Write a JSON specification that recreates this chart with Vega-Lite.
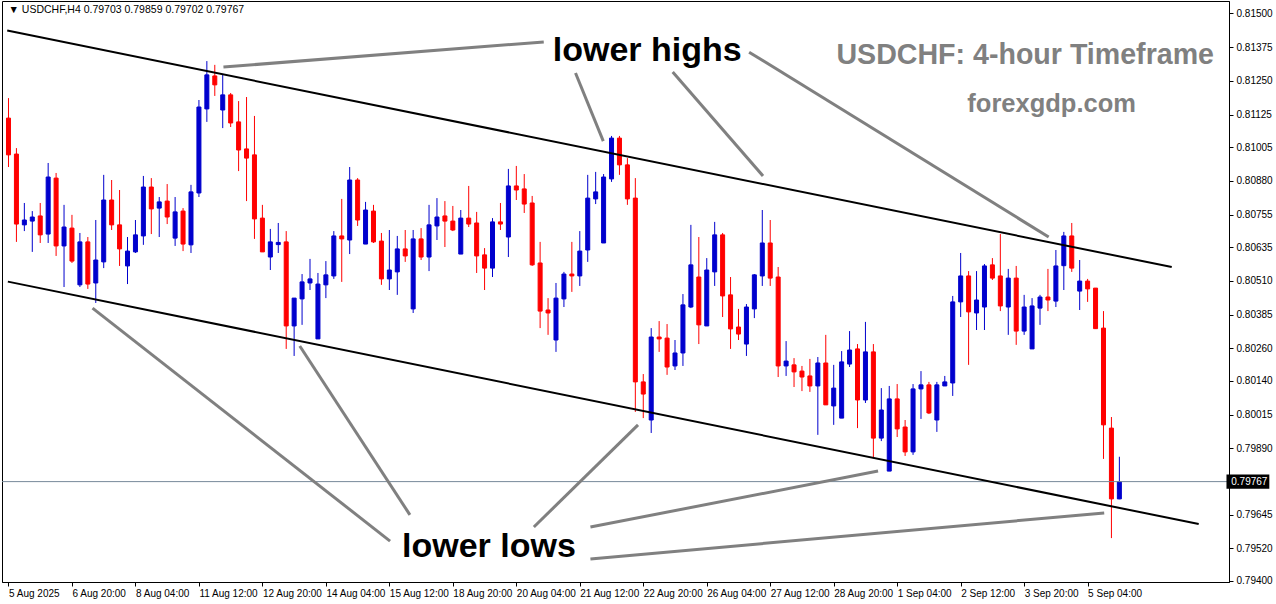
{
  "$schema": "https://vega.github.io/schema/vega-lite/v6.json",
  "width": 1227,
  "height": 581,
  "autosize": {"type": "none"},
  "padding": {"left": 2, "top": 1, "right": 47, "bottom": 22},
  "background": "white",
  "config": {
    "view": {"stroke": "#000000", "strokeWidth": 1},
    "font": "Liberation Sans",
    "axis": {"grid": false, "labelFontSize": 10, "labelFont": "Liberation Sans", "labelColor": "#000000", "tickSize": 4, "tickColor": "#000000", "domainColor": "#000000", "labelOverlap": false, "labelFlush": false, "title": null}
  },
  "datasets": {
    "candles": [
      {"t":"2025-08-05T12:00","o":0.81112,"h":0.81186,"l":0.80931,"c":0.80976},
      {"t":"2025-08-05T16:00","o":0.80979,"h":0.81001,"l":0.80654,"c":0.80720},
      {"t":"2025-08-05T20:00","o":0.80717,"h":0.80798,"l":0.80694,"c":0.80735},
      {"t":"2025-08-06T00:00","o":0.80731,"h":0.80768,"l":0.80617,"c":0.80746},
      {"t":"2025-08-06T04:00","o":0.80750,"h":0.80798,"l":0.80650,"c":0.80680},
      {"t":"2025-08-06T08:00","o":0.80683,"h":0.80946,"l":0.80650,"c":0.80894},
      {"t":"2025-08-06T12:00","o":0.80890,"h":0.80909,"l":0.80602,"c":0.80639},
      {"t":"2025-08-06T16:00","o":0.80639,"h":0.80791,"l":0.80487,"c":0.80709},
      {"t":"2025-08-06T20:00","o":0.80705,"h":0.80754,"l":0.80576,"c":0.80583},
      {"t":"2025-08-07T00:00","o":0.80495,"h":0.80687,"l":0.80487,"c":0.80654},
      {"t":"2025-08-07T04:00","o":0.80654,"h":0.80672,"l":0.80480,"c":0.80498},
      {"t":"2025-08-07T08:00","o":0.80502,"h":0.80735,"l":0.80428,"c":0.80587},
      {"t":"2025-08-07T12:00","o":0.80580,"h":0.80902,"l":0.80557,"c":0.80809},
      {"t":"2025-08-07T16:00","o":0.80809,"h":0.80883,"l":0.80698,"c":0.80717},
      {"t":"2025-08-07T20:00","o":0.80717,"h":0.80846,"l":0.80565,"c":0.80628},
      {"t":"2025-08-08T00:00","o":0.80565,"h":0.80672,"l":0.80498,"c":0.80620},
      {"t":"2025-08-08T04:00","o":0.80617,"h":0.80735,"l":0.80613,"c":0.80680},
      {"t":"2025-08-08T08:00","o":0.80676,"h":0.80898,"l":0.80643,"c":0.80857},
      {"t":"2025-08-08T12:00","o":0.80857,"h":0.80890,"l":0.80683,"c":0.80776},
      {"t":"2025-08-08T16:00","o":0.80779,"h":0.80820,"l":0.80672,"c":0.80802},
      {"t":"2025-08-08T20:00","o":0.80805,"h":0.80868,"l":0.80720,"c":0.80746},
      {"t":"2025-08-11T00:00","o":0.80668,"h":0.80820,"l":0.80639,"c":0.80765},
      {"t":"2025-08-11T04:00","o":0.80768,"h":0.80779,"l":0.80620,"c":0.80646},
      {"t":"2025-08-11T08:00","o":0.80643,"h":0.80865,"l":0.80613,"c":0.80839},
      {"t":"2025-08-11T12:00","o":0.80835,"h":0.81179,"l":0.80820,"c":0.81153},
      {"t":"2025-08-11T16:00","o":0.81146,"h":0.81323,"l":0.81098,"c":0.81272},
      {"t":"2025-08-11T20:00","o":0.81268,"h":0.81309,"l":0.81194,"c":0.81235},
      {"t":"2025-08-12T00:00","o":0.81142,"h":0.81272,"l":0.81075,"c":0.81198},
      {"t":"2025-08-12T04:00","o":0.81198,"h":0.81205,"l":0.81079,"c":0.81094},
      {"t":"2025-08-12T08:00","o":0.81098,"h":0.81175,"l":0.80916,"c":0.80994},
      {"t":"2025-08-12T12:00","o":0.80998,"h":0.81190,"l":0.80805,"c":0.80964},
      {"t":"2025-08-12T16:00","o":0.80976,"h":0.81120,"l":0.80665,"c":0.80739},
      {"t":"2025-08-12T20:00","o":0.80742,"h":0.80791,"l":0.80617,"c":0.80617},
      {"t":"2025-08-13T00:00","o":0.80598,"h":0.80702,"l":0.80550,"c":0.80654},
      {"t":"2025-08-13T04:00","o":0.80644,"h":0.80724,"l":0.80613,"c":0.80652},
      {"t":"2025-08-13T08:00","o":0.80654,"h":0.80694,"l":0.80258,"c":0.80343},
      {"t":"2025-08-13T12:00","o":0.80343,"h":0.80446,"l":0.80232,"c":0.80446},
      {"t":"2025-08-13T16:00","o":0.80443,"h":0.80535,"l":0.80347,"c":0.80506},
      {"t":"2025-08-13T20:00","o":0.80502,"h":0.80591,"l":0.80476,"c":0.80517},
      {"t":"2025-08-14T00:00","o":0.80295,"h":0.80539,"l":0.80295,"c":0.80498},
      {"t":"2025-08-14T04:00","o":0.80495,"h":0.80583,"l":0.80446,"c":0.80532},
      {"t":"2025-08-14T08:00","o":0.80528,"h":0.80694,"l":0.80517,"c":0.80676},
      {"t":"2025-08-14T12:00","o":0.80676,"h":0.80813,"l":0.80506,"c":0.80665},
      {"t":"2025-08-14T16:00","o":0.80661,"h":0.80931,"l":0.80609,"c":0.80883},
      {"t":"2025-08-14T20:00","o":0.80883,"h":0.80890,"l":0.80713,"c":0.80735},
      {"t":"2025-08-15T00:00","o":0.80646,"h":0.80802,"l":0.80646,"c":0.80772},
      {"t":"2025-08-15T04:00","o":0.80768,"h":0.80791,"l":0.80650,"c":0.80654},
      {"t":"2025-08-15T08:00","o":0.80657,"h":0.80687,"l":0.80495,"c":0.80517},
      {"t":"2025-08-15T12:00","o":0.80517,"h":0.80698,"l":0.80476,"c":0.80550},
      {"t":"2025-08-15T16:00","o":0.80543,"h":0.80676,"l":0.80458,"c":0.80628},
      {"t":"2025-08-15T20:00","o":0.80628,"h":0.80698,"l":0.80580,"c":0.80602},
      {"t":"2025-08-18T00:00","o":0.80406,"h":0.80698,"l":0.80391,"c":0.80665},
      {"t":"2025-08-18T04:00","o":0.80665,"h":0.80705,"l":0.80587,"c":0.80598},
      {"t":"2025-08-18T08:00","o":0.80598,"h":0.80791,"l":0.80546,"c":0.80717},
      {"t":"2025-08-18T12:00","o":0.80713,"h":0.80816,"l":0.80661,"c":0.80746},
      {"t":"2025-08-18T16:00","o":0.80750,"h":0.80805,"l":0.80635,"c":0.80731},
      {"t":"2025-08-18T20:00","o":0.80731,"h":0.80787,"l":0.80694,"c":0.80698},
      {"t":"2025-08-19T00:00","o":0.80609,"h":0.80772,"l":0.80609,"c":0.80742},
      {"t":"2025-08-19T04:00","o":0.80742,"h":0.80861,"l":0.80709,"c":0.80720},
      {"t":"2025-08-19T08:00","o":0.80724,"h":0.80765,"l":0.80539,"c":0.80602},
      {"t":"2025-08-19T12:00","o":0.80606,"h":0.80631,"l":0.80476,"c":0.80557},
      {"t":"2025-08-19T16:00","o":0.80557,"h":0.80742,"l":0.80524,"c":0.80728},
      {"t":"2025-08-19T20:00","o":0.80728,"h":0.80798,"l":0.80698,"c":0.80720},
      {"t":"2025-08-20T00:00","o":0.80672,"h":0.80924,"l":0.80598,"c":0.80861},
      {"t":"2025-08-20T04:00","o":0.80861,"h":0.80935,"l":0.80809,"c":0.80846},
      {"t":"2025-08-20T08:00","o":0.80850,"h":0.80905,"l":0.80761,"c":0.80794},
      {"t":"2025-08-20T12:00","o":0.80798,"h":0.80824,"l":0.80565,"c":0.80569},
      {"t":"2025-08-20T16:00","o":0.80576,"h":0.80654,"l":0.80335,"c":0.80398},
      {"t":"2025-08-20T20:00","o":0.80402,"h":0.80446,"l":0.80310,"c":0.80391},
      {"t":"2025-08-21T00:00","o":0.80291,"h":0.80502,"l":0.80247,"c":0.80446},
      {"t":"2025-08-21T04:00","o":0.80443,"h":0.80543,"l":0.80413,"c":0.80535},
      {"t":"2025-08-21T08:00","o":0.80535,"h":0.80654,"l":0.80469,"c":0.80528},
      {"t":"2025-08-21T12:00","o":0.80528,"h":0.80694,"l":0.80491,"c":0.80620},
      {"t":"2025-08-21T16:00","o":0.80624,"h":0.80902,"l":0.80580,"c":0.80816},
      {"t":"2025-08-21T20:00","o":0.80813,"h":0.80913,"l":0.80794,"c":0.80839},
      {"t":"2025-08-22T00:00","o":0.80650,"h":0.80905,"l":0.80650,"c":0.80894},
      {"t":"2025-08-22T04:00","o":0.80887,"h":0.81046,"l":0.80876,"c":0.81038},
      {"t":"2025-08-22T08:00","o":0.81038,"h":0.81046,"l":0.80902,"c":0.80939},
      {"t":"2025-08-22T12:00","o":0.80939,"h":0.80964,"l":0.80791,"c":0.80813},
      {"t":"2025-08-22T16:00","o":0.80816,"h":0.80890,"l":0.80025,"c":0.80136},
      {"t":"2025-08-22T20:00","o":0.80136,"h":0.80165,"l":0.80002,"c":0.80091},
      {"t":"2025-08-25T00:00","o":0.79995,"h":0.80335,"l":0.79947,"c":0.80302},
      {"t":"2025-08-25T04:00","o":0.80302,"h":0.80361,"l":0.80247,"c":0.80295},
      {"t":"2025-08-25T08:00","o":0.80298,"h":0.80350,"l":0.80162,"c":0.80191},
      {"t":"2025-08-25T12:00","o":0.80195,"h":0.80291,"l":0.80180,"c":0.80243},
      {"t":"2025-08-25T16:00","o":0.80243,"h":0.80461,"l":0.80195,"c":0.80421},
      {"t":"2025-08-25T20:00","o":0.80413,"h":0.80717,"l":0.80409,"c":0.80569},
      {"t":"2025-08-26T00:00","o":0.80524,"h":0.80672,"l":0.80276,"c":0.80347},
      {"t":"2025-08-26T04:00","o":0.80343,"h":0.80594,"l":0.80343,"c":0.80550},
      {"t":"2025-08-26T08:00","o":0.80543,"h":0.80728,"l":0.80491,"c":0.80680},
      {"t":"2025-08-26T12:00","o":0.80680,"h":0.80687,"l":0.80376,"c":0.80454},
      {"t":"2025-08-26T16:00","o":0.80458,"h":0.80524,"l":0.80258,"c":0.80332},
      {"t":"2025-08-26T20:00","o":0.80339,"h":0.80406,"l":0.80291,"c":0.80313},
      {"t":"2025-08-27T00:00","o":0.80276,"h":0.80424,"l":0.80232,"c":0.80413},
      {"t":"2025-08-27T04:00","o":0.80406,"h":0.80535,"l":0.80372,"c":0.80532},
      {"t":"2025-08-27T08:00","o":0.80528,"h":0.80772,"l":0.80491,"c":0.80650},
      {"t":"2025-08-27T12:00","o":0.80650,"h":0.80735,"l":0.80491,"c":0.80520},
      {"t":"2025-08-27T16:00","o":0.80524,"h":0.80561,"l":0.80154,"c":0.80195},
      {"t":"2025-08-27T20:00","o":0.80195,"h":0.80287,"l":0.80158,"c":0.80213},
      {"t":"2025-08-28T00:00","o":0.80199,"h":0.80224,"l":0.80117,"c":0.80173},
      {"t":"2025-08-28T04:00","o":0.80176,"h":0.80195,"l":0.80102,"c":0.80154},
      {"t":"2025-08-28T08:00","o":0.80158,"h":0.80221,"l":0.80099,"c":0.80121},
      {"t":"2025-08-28T12:00","o":0.80121,"h":0.80228,"l":0.79940,"c":0.80206},
      {"t":"2025-08-28T16:00","o":0.80206,"h":0.80310,"l":0.80051,"c":0.80051},
      {"t":"2025-08-28T20:00","o":0.80047,"h":0.80199,"l":0.79977,"c":0.80113},
      {"t":"2025-08-29T00:00","o":0.80002,"h":0.80250,"l":0.80002,"c":0.80210},
      {"t":"2025-08-29T04:00","o":0.80202,"h":0.80324,"l":0.80191,"c":0.80254},
      {"t":"2025-08-29T08:00","o":0.80258,"h":0.80276,"l":0.79965,"c":0.80069},
      {"t":"2025-08-29T12:00","o":0.80069,"h":0.80358,"l":0.80058,"c":0.80247},
      {"t":"2025-08-29T16:00","o":0.80247,"h":0.80276,"l":0.79854,"c":0.79928},
      {"t":"2025-08-29T20:00","o":0.79928,"h":0.80113,"l":0.79917,"c":0.80032},
      {"t":"2025-09-01T00:00","o":0.79806,"h":0.80121,"l":0.79806,"c":0.80073},
      {"t":"2025-09-01T04:00","o":0.80073,"h":0.80128,"l":0.79932,"c":0.79962},
      {"t":"2025-09-01T08:00","o":0.79969,"h":0.79995,"l":0.79862,"c":0.79877},
      {"t":"2025-09-01T12:00","o":0.79877,"h":0.80128,"l":0.79866,"c":0.80110},
      {"t":"2025-09-01T16:00","o":0.80110,"h":0.80176,"l":0.79999,"c":0.80125},
      {"t":"2025-09-01T20:00","o":0.80125,"h":0.80136,"l":0.80017,"c":0.80021},
      {"t":"2025-09-02T00:00","o":0.79995,"h":0.80136,"l":0.79951,"c":0.80125},
      {"t":"2025-09-02T04:00","o":0.80121,"h":0.80158,"l":0.80121,"c":0.80136},
      {"t":"2025-09-02T08:00","o":0.80132,"h":0.80454,"l":0.80084,"c":0.80432},
      {"t":"2025-09-02T12:00","o":0.80432,"h":0.80613,"l":0.80376,"c":0.80528},
      {"t":"2025-09-02T16:00","o":0.80528,"h":0.80546,"l":0.80199,"c":0.80395},
      {"t":"2025-09-02T20:00","o":0.80391,"h":0.80546,"l":0.80328,"c":0.80439},
      {"t":"2025-09-03T00:00","o":0.80413,"h":0.80572,"l":0.80328,"c":0.80565},
      {"t":"2025-09-03T04:00","o":0.80569,"h":0.80594,"l":0.80513,"c":0.80520},
      {"t":"2025-09-03T08:00","o":0.80528,"h":0.80683,"l":0.80398,"c":0.80417},
      {"t":"2025-09-03T12:00","o":0.80413,"h":0.80554,"l":0.80310,"c":0.80520},
      {"t":"2025-09-03T16:00","o":0.80520,"h":0.80565,"l":0.80273,"c":0.80324},
      {"t":"2025-09-03T20:00","o":0.80324,"h":0.80458,"l":0.80310,"c":0.80413},
      {"t":"2025-09-04T00:00","o":0.80258,"h":0.80446,"l":0.80258,"c":0.80417},
      {"t":"2025-09-04T04:00","o":0.80409,"h":0.80458,"l":0.80347,"c":0.80450},
      {"t":"2025-09-04T08:00","o":0.80450,"h":0.80554,"l":0.80398,"c":0.80439},
      {"t":"2025-09-04T12:00","o":0.80435,"h":0.80624,"l":0.80413,"c":0.80565},
      {"t":"2025-09-04T16:00","o":0.80566,"h":0.80691,"l":0.80476,"c":0.80676},
      {"t":"2025-09-04T20:00","o":0.80676,"h":0.80724,"l":0.80543,"c":0.80557},
      {"t":"2025-09-05T00:00","o":0.80472,"h":0.80587,"l":0.80402,"c":0.80509},
      {"t":"2025-09-05T04:00","o":0.80509,"h":0.80517,"l":0.80432,"c":0.80480},
      {"t":"2025-09-05T08:00","o":0.80483,"h":0.80483,"l":0.80332,"c":0.80333},
      {"t":"2025-09-05T12:00","o":0.80335,"h":0.80398,"l":0.79851,"c":0.79977},
      {"t":"2025-09-05T16:00","o":0.79965,"h":0.80006,"l":0.79558,"c":0.79703},
      {"t":"2025-09-05T20:00","o":0.79703,"h":0.79859,"l":0.79702,"c":0.79767}
    ],
    "channel": [
      {"n1":0.84,"p1":0.81436,"n2":147.6,"p2":0.80561},
      {"n1":0.92,"p1":0.80507,"n2":151.0,"p2":0.79610}
    ],
    "pointers": [
      {"n1":28.09,"p1":0.81301,"n2":68.46,"p2":0.81394},
      {"n1":72.46,"p1":0.81279,"n2":75.96,"p2":0.81027},
      {"n1":84.71,"p1":0.81283,"n2":96.09,"p2":0.80898},
      {"n1":94.34,"p1":0.81356,"n2":132.09,"p2":0.80672},
      {"n1":11.59,"p1":0.80409,"n2":49.09,"p2":0.79547},
      {"n1":37.71,"p1":0.80269,"n2":51.59,"p2":0.79644},
      {"n1":67.21,"p1":0.79599,"n2":80.34,"p2":0.79977},
      {"n1":74.34,"p1":0.79599,"n2":110.59,"p2":0.79806},
      {"n1":74.34,"p1":0.79481,"n2":139.09,"p2":0.79651}
    ]
  },
  "layer": [
    {
      "data": {"name": "candles"},
      "transform": [{"window": [{"op": "row_number", "as": "n"}], "sort": [{"field": "t", "order": "ascending"}]}],
      "mark": {"type": "rule", "strokeWidth": 1},
      "encoding": {
        "x": {"field": "n", "type": "quantitative", "title": null, "scale": {"domain": [0.8125, 154.1875], "nice": false, "zero": false},
          "axis": {"title": null, "values": [1,9,17,25,33,41,49,57,65,73,81,89,97,105,113,121,129,137], "tickCount": 40,
            "labelExpr": "['5 Aug 2025','6 Aug 20:00','8 Aug 04:00','11 Aug 12:00','12 Aug 20:00','14 Aug 04:00','15 Aug 12:00','18 Aug 20:00','20 Aug 04:00','21 Aug 12:00','22 Aug 20:00','26 Aug 04:00','27 Aug 12:00','28 Aug 20:00','1 Sep 04:00','2 Sep 12:00','3 Sep 20:00','5 Sep 04:00'][(datum.value-1)/8]",
            "labelAlign": "left", "labelBaseline": "top", "labelPadding": 2, "labelOverlap": false, "labelFlush": false}},
        "y": {"field": "l", "type": "quantitative", "title": null, "scale": {"domain": [0.793956, 0.815453], "nice": false, "zero": false},
          "axis": {"title": null, "orient": "right", "tickCount": 30,
            "values": [0.815, 0.81375, 0.8125, 0.81125, 0.81005, 0.8088, 0.80755, 0.80635, 0.8051, 0.80385, 0.8026, 0.8014, 0.80015, 0.7989, 0.79645, 0.7952, 0.794],
            "format": ".5f", "labelPadding": 3, "labelOverlap": false, "labelFlush": false, "labelBound": false}},
        "y2": {"field": "h"},
        "color": {"condition": {"test": "datum.c >= datum.o", "value": "#0000CD"}, "value": "#FF0000"}
      }
    },
    {
      "data": {"name": "candles"},
      "transform": [{"window": [{"op": "row_number", "as": "n"}], "sort": [{"field": "t", "order": "ascending"}]}],
      "mark": {"type": "bar", "size": 4, "strokeWidth": 1},
      "encoding": {
        "x": {"field": "n", "type": "quantitative", "title": null},
        "y": {"field": "o", "type": "quantitative", "title": null},
        "y2": {"field": "c"},
        "fill": {"condition": {"test": "datum.c >= datum.o", "value": "#0000CD"}, "value": "#FF0000"},
        "stroke": {"condition": {"test": "datum.c >= datum.o", "value": "#0000CD"}, "value": "#FF0000"}
      }
    },
    {
      "data": {"values": [{"p": 0.79767}]},
      "mark": {"type": "rule", "color": "#778899", "strokeWidth": 1},
      "encoding": {
        "y": {"field": "p", "type": "quantitative", "title": null}
      }
    },
    {
      "data": {"name": "channel"},
      "mark": {"type": "rule", "color": "#000000", "strokeWidth": 2},
      "encoding": {
        "x": {"field": "n1", "type": "quantitative", "title": null},
        "x2": {"field": "n2"},
        "y": {"field": "p1", "type": "quantitative", "title": null},
        "y2": {"field": "p2"}
      }
    },
    {
      "data": {"name": "pointers"},
      "mark": {"type": "rule", "color": "#808080", "strokeWidth": 3},
      "encoding": {
        "x": {"field": "n1", "type": "quantitative", "title": null},
        "x2": {"field": "n2"},
        "y": {"field": "p1", "type": "quantitative", "title": null},
        "y2": {"field": "p2"}
      }
    },
    {
      "data": {"values": [{"label": "lower highs"}]},
      "mark": {"type": "text", "align": "left", "baseline": "alphabetic", "fontSize": 34, "fontWeight": "bold", "color": "#000000", "font": "Liberation Sans"},
      "encoding": {"x": {"datum": 69.59, "type": "quantitative"}, "y": {"datum": 0.81323, "type": "quantitative"}, "text": {"field": "label"}}
    },
    {
      "data": {"values": [{"label": "lower lows"}]},
      "mark": {"type": "text", "align": "left", "baseline": "alphabetic", "fontSize": 34, "fontWeight": "bold", "color": "#000000", "font": "Liberation Sans"},
      "encoding": {"x": {"datum": 50.59, "type": "quantitative"}, "y": {"datum": 0.79488, "type": "quantitative"}, "text": {"field": "label"}}
    },
    {
      "data": {"values": [{"label": "USDCHF: 4-hour Timeframe"}]},
      "mark": {"type": "text", "align": "left", "baseline": "alphabetic", "fontSize": 28.6, "fontWeight": "bold", "color": "#808080", "font": "Liberation Sans"},
      "encoding": {"x": {"datum": 105.34, "type": "quantitative"}, "y": {"datum": 0.81312, "type": "quantitative"}, "text": {"field": "label"}}
    },
    {
      "data": {"values": [{"label": "forexgdp.com"}]},
      "mark": {"type": "text", "align": "left", "baseline": "alphabetic", "fontSize": 25.5, "fontWeight": "bold", "color": "#808080", "font": "Liberation Sans"},
      "encoding": {"x": {"datum": 121.84, "type": "quantitative"}, "y": {"datum": 0.81135, "type": "quantitative"}, "text": {"field": "label"}}
    },
    {
      "data": {"values": [{"label": "▼  USDCHF,H4   0.79703  0.79859  0.79702  0.79767"}]},
      "mark": {"type": "text", "align": "left", "baseline": "alphabetic", "fontSize": 10.5, "color": "#000000", "font": "Liberation Sans"},
      "encoding": {"x": {"datum": 1.0, "type": "quantitative"}, "y": {"datum": 0.81501, "type": "quantitative"}, "text": {"field": "label"}}
    },
    {
      "data": {"values": [{"p": 0.79767}]},
      "mark": {"type": "rect", "color": "#000000"},
      "encoding": {"x": {"datum": 154.5, "type": "quantitative"}, "x2": {"datum": 159.9}, "y": {"datum": 0.79741, "type": "quantitative"}, "y2": {"datum": 0.79793}}
    },
    {
      "data": {"values": [{"p": 0.79767}]},
      "mark": {"type": "text", "align": "left", "baseline": "middle", "fontSize": 10, "color": "#FFFFFF", "font": "Liberation Sans"},
      "encoding": {"x": {"datum": 155.1, "type": "quantitative"}, "y": {"field": "p", "type": "quantitative", "title": null}, "text": {"field": "p", "format": ".5f"}}
    }
  ]
}
